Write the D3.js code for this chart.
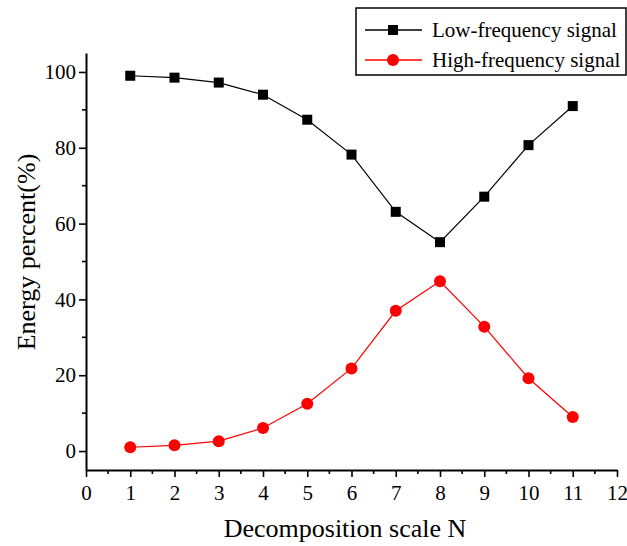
<!DOCTYPE html>
<html>
<head>
<meta charset="utf-8">
<script src="https://cdn.jsdelivr.net/npm/d3@7"></script>
<style>
  body { margin: 0; background: #fff; }
  svg { display: block; }
  svg text { font-family: "Liberation Serif", "Times New Roman", Tinos, Times, serif; }
</style>
</head>
<body>
<svg id="drawing_region"></svg>
<script>
const scales = [ 1, 2, 3, 4, 5, 6, 7, 8, 9, 10, 11 ];
const lowFreq = [ 99.0, 98.5, 97.2, 94.0, 87.4, 78.2, 63.1, 55.1, 67.1, 80.7, 91.0 ];
const highFreq = [ 1.0, 1.5, 2.6, 6.1, 12.5, 21.8, 37.0, 44.8, 32.8, 19.2, 9.0 ];
const xTicks = [ 0, 1, 2, 3, 4, 5, 6, 7, 8, 9, 10, 11, 12 ];
const yTicks = [ 0, 20, 40, 60, 80, 100 ];
const seriesNames = [ "Low-frequency signal", "High-frequency signal" ];

const width = 627, height = 546;
const margin = { top: 53, right: 10, bottom: 76, left: 86 };

const svg = d3.select( "#drawing_region" )
    .attr( "width", width )
    .attr( "height", height );

const chart = svg.append( "g" )
    .attr( "transform", `translate(${margin.left}, ${margin.top})` );

const innerWidth = 617 - margin.left;
const innerHeight = height - margin.top - margin.bottom;

const xscale = d3.scaleLinear().domain( [ 0, 12 ] ).range( [ 0, innerWidth ] );
const yscale = d3.scaleLinear().domain( [ -5, 105 ] ).range( [ innerHeight, 0 ] );

// minor ticks halfway between the labelled ones
const xMinor = d3.range( 0.5, 12, 1 );
const yMinor = d3.range( 10, 110, 20 );

chart.selectAll( "line.xminor" )
    .data( xMinor )
    .enter()
    .append( "line" )
    .attr( "class", "xminor" )
    .attr( "x1", d => xscale( d ) ).attr( "x2", d => xscale( d ) )
    .attr( "y1", innerHeight ).attr( "y2", innerHeight + 4 )
    .attr( "stroke", "#000" ).attr( "stroke-width", 1.6 );

chart.selectAll( "line.yminor" )
    .data( yMinor )
    .enter()
    .append( "line" )
    .attr( "class", "yminor" )
    .attr( "x1", 0 ).attr( "x2", -4 )
    .attr( "y1", d => yscale( d ) ).attr( "y2", d => yscale( d ) )
    .attr( "stroke", "#000" ).attr( "stroke-width", 1.6 );

const xaxisGroup = chart.append( "g" )
    .attr( "transform", `translate(0, ${innerHeight})` )
    .call( d3.axisBottom( xscale ).tickValues( xTicks ).tickSize( 7 ).tickSizeOuter( 0 ).tickPadding( 8 ) );

const yaxisGroup = chart.append( "g" )
    .call( d3.axisLeft( yscale ).tickValues( yTicks ).tickSize( 7 ).tickSizeOuter( 0 ).tickPadding( 3 ) );

chart.selectAll( "g" ).attr( "font-family", null );
chart.selectAll( ".domain" ).attr( "stroke-width", 2 ).attr( "stroke", "#000" );
chart.selectAll( ".tick line" ).attr( "stroke-width", 1.6 ).attr( "stroke", "#000" );
chart.selectAll( ".tick text" )
    .attr( "font-size", 21 )
    .attr( "fill", "#000" );

// axis titles
svg.append( "text" )
    .attr( "x", 345 )
    .attr( "y", 537 )
    .attr( "text-anchor", "middle" )
    .attr( "font-size", 26 )
    .text( "Decomposition scale N" );

svg.append( "text" )
    .attr( "transform", "translate(35, 252) rotate(-90)" )
    .attr( "text-anchor", "middle" )
    .attr( "font-size", 26 )
    .text( "Energy percent(%)" );

const line = d3.line()
    .x( ( d, i ) => xscale( scales[ i ] ) )
    .y( d => yscale( d ) );

chart.append( "path" )
    .datum( lowFreq )
    .attr( "fill", "none" )
    .attr( "stroke", "#000" )
    .attr( "stroke-width", 1.2 )
    .attr( "d", line );

chart.append( "path" )
    .datum( highFreq )
    .attr( "fill", "none" )
    .attr( "stroke", "#ff0000" )
    .attr( "stroke-width", 1.2 )
    .attr( "d", line );

const sq = 10;
chart.selectAll( "rect.low" )
    .data( lowFreq )
    .enter()
    .append( "rect" )
    .attr( "class", "low" )
    .attr( "x", ( d, i ) => xscale( scales[ i ] ) - sq / 2 )
    .attr( "y", d => yscale( d ) - sq / 2 )
    .attr( "width", sq )
    .attr( "height", sq )
    .attr( "fill", "#000" );

chart.selectAll( "circle.high" )
    .data( highFreq )
    .enter()
    .append( "circle" )
    .attr( "class", "high" )
    .attr( "cx", ( d, i ) => xscale( scales[ i ] ) )
    .attr( "cy", d => yscale( d ) )
    .attr( "r", 6 )
    .attr( "fill", "#ff0000" );

// legend
const legend = svg.append( "g" ).attr( "transform", "translate(356, 8)" );
legend.append( "rect" )
    .attr( "width", 270 )
    .attr( "height", 67 )
    .attr( "fill", "#fff" )
    .attr( "stroke", "#000" )
    .attr( "stroke-width", 1.5 );

const rows = [ 22, 52 ];
const colors = [ "#000", "#ff0000" ];
seriesNames.forEach( ( name, i ) => {
    const g = legend.append( "g" ).attr( "transform", `translate(0, ${rows[ i ]})` );
    g.append( "line" )
        .attr( "x1", 9 ).attr( "x2", 66 )
        .attr( "stroke", colors[ i ] )
        .attr( "stroke-width", 1.5 );
    if ( i === 0 ) {
        g.append( "rect" )
            .attr( "x", 37 - sq / 2 ).attr( "y", -sq / 2 )
            .attr( "width", sq ).attr( "height", sq )
            .attr( "fill", "#000" );
    } else {
        g.append( "circle" )
            .attr( "cx", 37 ).attr( "r", 6 )
            .attr( "fill", "#ff0000" );
    }
    g.append( "text" )
        .attr( "x", 76 )
        .attr( "dy", "0.35em" )
        .attr( "font-size", 21 )
        .text( name );
} );
</script>
</body>
</html>
